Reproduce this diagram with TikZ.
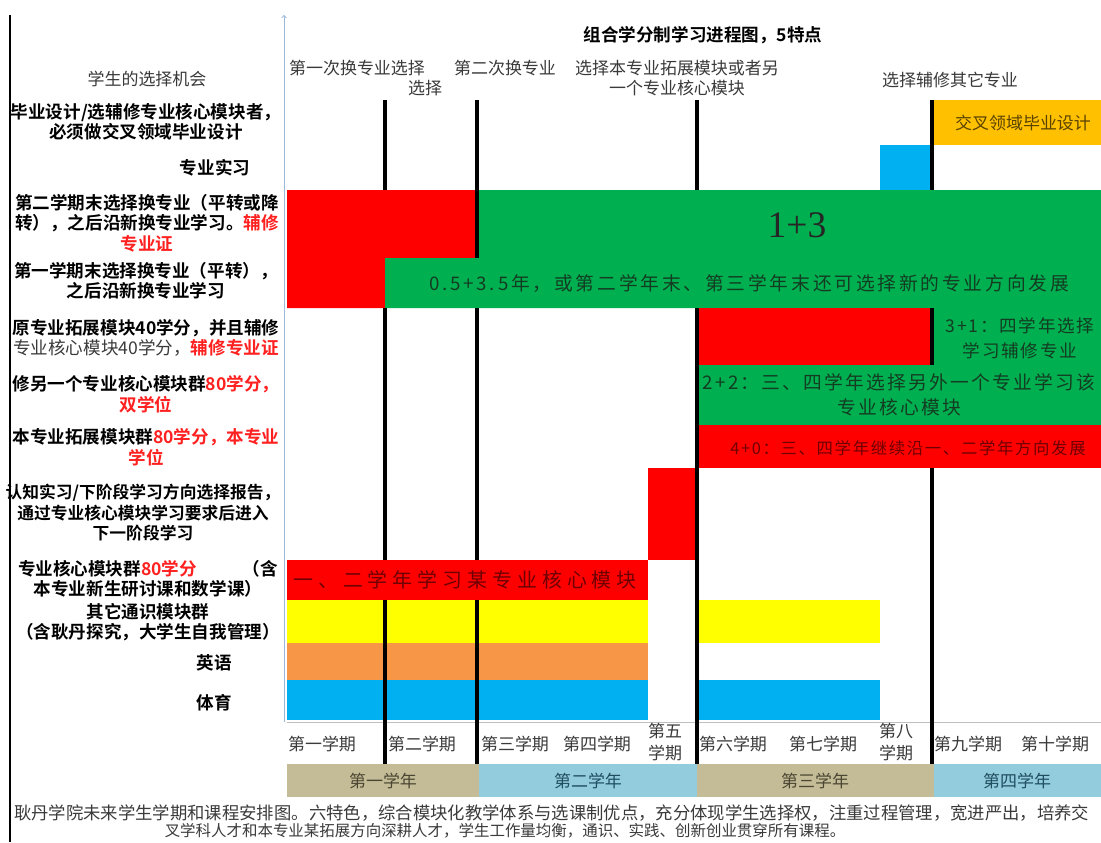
\documentclass[tikz,border=0pt]{standalone}
\usepackage{fontspec}
\setmainfont{Noto Sans CJK SC}[BoldFont=Noto Sans CJK SC Bold]
\newfontfamily\spacedA{Noto Sans CJK SC}[LetterSpace=15]
\newfontfamily\spacedB{Noto Sans CJK SC}[LetterSpace=10]
\newfontfamily\spacedC{Noto Sans CJK SC}[LetterSpace=25]
\newfontfamily\spacedD{Noto Sans CJK SC}[LetterSpace=12]
\newfontfamily\romanfont{Liberation Serif}
\usepackage{xcolor}
\usepackage{tikz}
\usetikzlibrary{arrows}

\definecolor{cred}{HTML}{FF0000}
\definecolor{cgreen}{HTML}{00B050}
\definecolor{cgold}{HTML}{FFC000}
\definecolor{csky}{HTML}{00B0F0}
\definecolor{cyellow}{HTML}{FFFF00}
\definecolor{corange}{HTML}{F79646}
\definecolor{ctan}{HTML}{C4BC96}
\definecolor{cpale}{HTML}{93CDDD}
\definecolor{caxis}{HTML}{9BB7D9}
\definecolor{labred}{HTML}{FF2020}
\definecolor{dkred}{HTML}{6E0000}
\definecolor{dkgreen}{HTML}{143C22}
\definecolor{txtgray}{HTML}{3A3A3A}
\definecolor{goldtxt}{HTML}{5A4300}
\definecolor{tantxt}{HTML}{4B4633}
\definecolor{paletxt}{HTML}{1F4E5F}

\begin{document}
\begin{tikzpicture}[
  x=0.03cm, y=-0.03cm,
  lbl/.style={font=\bfseries\fontsize{15}{17.5}\selectfont, align=center, inner sep=0pt},
  hdr/.style={font=\fontsize{14.5}{17}\selectfont, text=txtgray, align=center, inner sep=0pt},
  sem/.style={font=\fontsize{14.5}{18}\selectfont, text=txtgray, align=center, inner sep=0pt},
  blk/.style={font=\spacedA\fontsize{16}{21.3}\selectfont, text=dkgreen, align=center, inner sep=0pt},
  bar/.style={line width=3pt},
]

\useasboundingbox (0,0) rectangle (1101,842);
\fill [white] (0,0) rectangle (1101,842);

% rows under the semester lines
\fill [cyellow] (287,600) rectangle (648,643);
\fill [cyellow] (697,600) rectangle (880,643);
\fill [corange] (287,643) rectangle (648,680);
\fill [csky] (287,680) rectangle (648,720);
\fill [csky] (697,680) rectangle (880,720);
\fill [cgold] (932,100) rectangle (1101,145);
\fill [csky] (880,145) rectangle (932,190);

% choice blocks
\fill [cred] (287,190) -- (477,190) -- (477,258) -- (385,258) -- (385,308) -- (287,308) -- cycle;
\fill [cgreen] (477,190) -- (1101,190) -- (1101,425) -- (697,425) -- (697,365)
  -- (932,365) -- (932,308) -- (385,308) -- (385,258) -- (477,258) -- cycle;
\fill [cred] (697,308) rectangle (932,365);
\fill [cred] (697,425) rectangle (1101,468);
\fill [cred] (648,468) rectangle (697,560);
\fill [cred] (287,560) rectangle (648,600);

% year bar
\fill [ctan] (287,764) rectangle (479,797);
\fill [cpale] (479,764) rectangle (697,797);
\fill [ctan] (697,764) rectangle (934,797);
\fill [cpale] (934,764) rectangle (1101,797);

% axes and semester lines
\draw [line width=2pt] (10,15) -- (10,842);
\draw [caxis, thick, ->] (284,722) -- (284,15);
\draw [gray!50] (287,722) -- (1101,722);
\draw [bar] (385,100) -- (385,190);
\draw [bar] (385,308) -- (385,560);
\draw [bar] (385,600) -- (385,764);
\draw [bar] (477,100) -- (477,258);
\draw [bar] (477,308) -- (477,560);
\draw [bar] (477,600) -- (477,764);
\draw [bar] (697,100) -- (697,190);
\draw [bar] (697,308) -- (697,764);
\draw [bar] (932,100) -- (932,190);
\draw [bar] (932,308) -- (932,365);
\draw [bar] (932,468) -- (932,764);

% title and header
\node [lbl, text=black] (title) at (703,35) {组合学分制学习进程图，5特点};
\node [hdr] (chance) at (147,79) {学生的选择机会};
\node [hdr] (first) at (357,68) {第一次换专业选择};
\node [hdr] (firstb) at (425,88) {选择};
\node [hdr] (second) at (505,68) {第二次换专业};
\node [hdr] (third) at (677,78) {选择本专业拓展模块或者另\\一个专业核心模块};
\node [hdr] (minor) at (950,80) {选择辅修其它专业};

% row labels
\node [lbl] (thesis) at (146,122) {毕业设计/选辅修专业核心模块者，\\必须做交叉领域毕业设计};
\node [lbl] (intern) at (215,168) {专业实习};
\node [lbl] (swtwo) at (147,223) {第二学期末选择换专业（平转或降\\转），之后沿新换专业学习。{\color{labred}辅修}\\{\color{labred}专业证}};
\node [lbl] (swone) at (146,281) {第一学期末选择换专业（平转），\\之后沿新换专业学习};
\node [lbl] (extend) at (146,338) {原专业拓展模块40学分，并且辅修\\{\mdseries\color{txtgray}专业核心模块40学分，}{\color{labred}辅修专业证}};
\node [lbl] (double) at (146,394) {修另一个专业核心模块群{\color{labred}80学分，}\\{\color{labred}双学位}};
\node [lbl] (own) at (146,447) {本专业拓展模块群{\color{labred}80学分，本专业}\\{\color{labred}学位}};
\node [lbl, font=\bfseries\fontsize{14.3}{17.5}\selectfont] (report) at (143,513) {认知实习/下阶段学习方向选择报告，\\通过专业核心模块学习要求后进入\\下一阶段学习};
\node [lbl] (core) at (148,579) {专业核心模块群{\color{labred}80学分}\hspace{2.6em}（含\\本专业新生研讨课和数学课）};
\node [lbl] (general) at (148,622) {其它通识模块群\\（含耿丹探究，大学生自我管理）};
\node [lbl] (english) at (214,663) {英语};
\node [lbl] (sport) at (214,703) {体育};

% block texts
\node [hdr, text=goldtxt] (cross) at (1023,123) {交叉领域毕业设计};
\node [inner sep=0pt, font=\romanfont\fontsize{32}{36}\selectfont, text=black!85] (onethree) at (797,225) {1+3};
\node [blk] (half) at (749,284) {0.5+3.5年，或第二学年末、第三学年末还可选择新的专业方向发展};
\node [blk, font=\spacedB\fontsize{15}{21.3}\selectfont] (threeone) at (1020,338) {3+1：四学年选择\\学习辅修专业};
\node [blk, font=\spacedD\fontsize{16}{21.3}\selectfont] (twotwo) at (899,395) {2+2：三、四学年选择另外一个专业学习该\\专业核心模块};
\node [inner sep=0pt, font=\spacedB\fontsize{14}{17}\selectfont, text=dkred] (fourzero) at (908,448) {4+0：三、四学年继续沿一、二学年方向发展};
\node [inner sep=0pt, font=\spacedC\fontsize{17}{20}\selectfont, text=dkred] (coretxt) at (465,580) {一、二学年学习某专业核心模块};

% semesters
\node [sem] (s1) at (322,744) {第一学期};
\node [sem] (s2) at (422,744) {第二学期};
\node [sem] (s3) at (515,744) {第三学期};
\node [sem] (s4) at (597,744) {第四学期};
\node [sem] (s5) at (665,742) {第五\\学期};
\node [sem] (s6) at (733,744) {第六学期};
\node [sem] (s7) at (823,744) {第七学期};
\node [sem] (s8) at (896,742) {第八\\学期};
\node [sem] (s9) at (968,744) {第九学期};
\node [sem] (s10) at (1055,744) {第十学期};

% years
\node [sem, text=tantxt] (y1) at (383,781) {第一学年};
\node [sem, text=paletxt] (y2) at (588,781) {第二学年};
\node [sem, text=tantxt] (y3) at (815,781) {第三学年};
\node [sem, text=paletxt] (y4) at (1017,781) {第四学年};

% caption
\node [sem, anchor=west, font=\fontsize{14.8}{18}\selectfont] (capa) at (14,813) {耿丹学院未来学生学期和课程安排图。六特色，综合模块化教学体系与选课制优点，充分体现学生选择权，注重过程管理，宽进严出，培养交};
\node [sem, font=\fontsize{13.2}{16}\selectfont] (capb) at (505,831) {叉学科人才和本专业某拓展方向深耕人才，学生工作量均衡，通识、实践、创新创业贯穿所有课程。};

\end{tikzpicture}
\end{document}
